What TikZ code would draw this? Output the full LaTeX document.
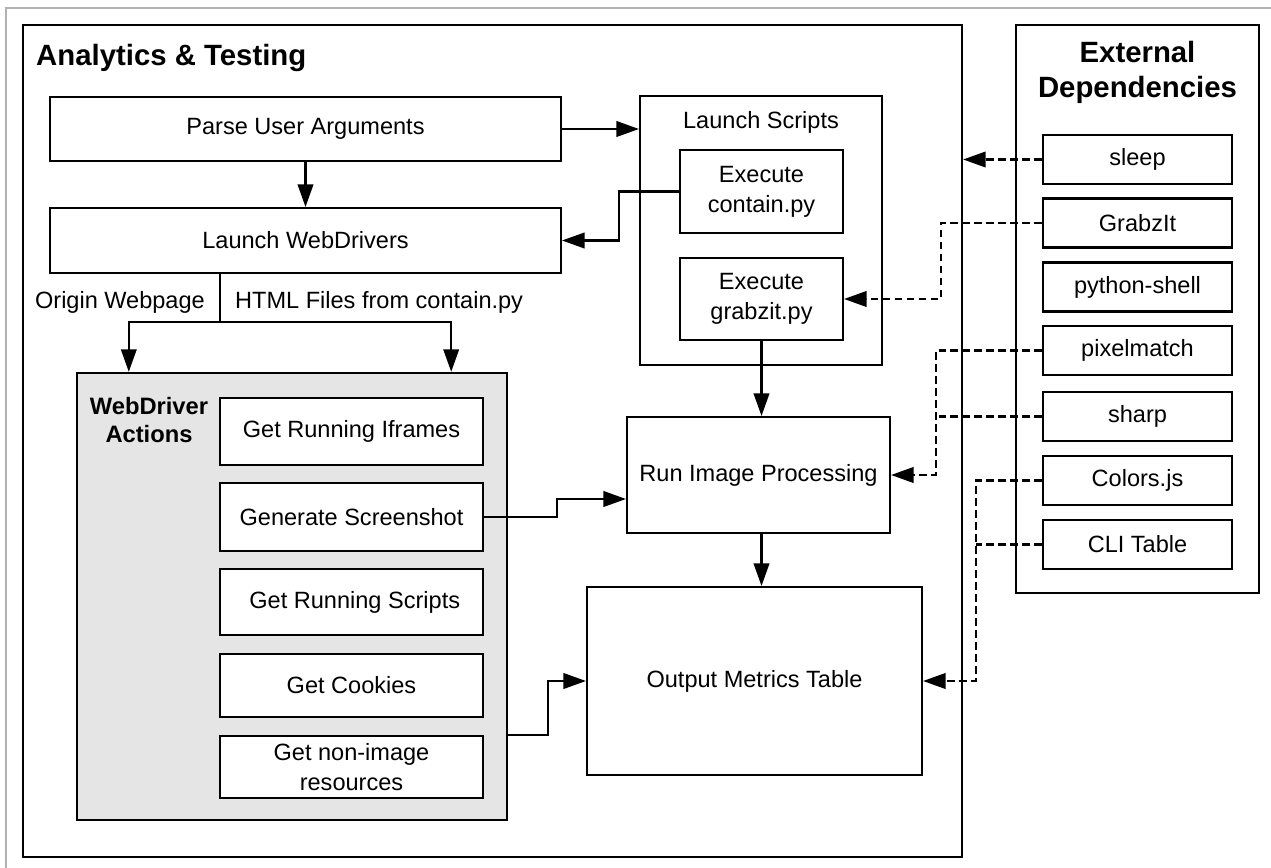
\documentclass[tikz,border=0pt]{standalone}
\usepackage{fontspec}
\setmainfont{Liberation Sans}
\usetikzlibrary{arrows.meta,positioning,calc}

\begin{document}
\begin{tikzpicture}[x=0.02cm,y=-0.02cm,
    box/.style={draw,line width=1.2pt,fill=white,font=\fontsize{13.4}{17}\selectfont,align=center,inner sep=2pt},
    frame/.style={draw,line width=1.4pt},
    heading/.style={font=\fontsize{16.7}{20}\selectfont\bfseries,align=center},
    flow/.style={line width=1.2pt,-{Triangle[length=0.45cm,width=0.31cm]}},
    depline/.style={flow,dash pattern=on 0.15cm off 0.09cm}]
    \useasboundingbox (0,0) rectangle (1271,868);
    % thin page frame
    \draw[gray!60,line width=0.6pt] (6,868) -- (6,8) -- (1271,8);

    % Analytics & Testing container
    \node[frame,minimum width=18.78cm,minimum height=16.64cm] (analytics) at (492.5,441) {};
    \node[heading,anchor=west] (analyticslbl) at (30,58) {Analytics \& Testing};

    % left column
    \node[box,minimum width=10.22cm,minimum height=1.28cm] (parse) at (305.5,129) {Parse User Arguments};
    \node[box,minimum width=10.22cm,minimum height=1.30cm] (launchwd) at (305.5,240.5) {Launch WebDrivers};
    \node[font=\fontsize{13.4}{17}\selectfont,anchor=east] (originlbl) at (211,302) {Origin Webpage};
    \node[font=\fontsize{13.4}{17}\selectfont,anchor=west] (htmllbl) at (229,302) {HTML Files from contain.py};

    % WebDriver actions group
    \node[frame,fill=gray!20,minimum width=8.6cm,minimum height=8.94cm] (actions) at (292,596.5) {};
    \node[font=\fontsize{13.5}{16}\selectfont\bfseries,align=center] (actionslbl) at (149,420) {WebDriver\\Actions};
    \node[box,minimum width=5.26cm,minimum height=1.34cm] (iframes) at (351.5,431.5) {Get Running Iframes};
    \node[box,minimum width=5.26cm,minimum height=1.36cm] (screenshot) at (351.5,517) {Generate Screenshot};
    \node[box,minimum width=5.26cm,minimum height=1.32cm] (runscripts) at (351.5,602) {\ Get Running Scripts};
    \node[box,minimum width=5.26cm,minimum height=1.26cm] (cookies) at (351.5,685.5) {Get Cookies};
    \node[box,minimum width=5.26cm,minimum height=1.24cm] (nonimage) at (351.5,767) {Get non-image\\resources};

    % Launch Scripts group
    \node[box,minimum width=4.84cm,minimum height=5.38cm] (scripts) at (761,230.5) {};
    \node[font=\fontsize{13.4}{17}\selectfont] (scriptslbl) at (761,122) {Launch Scripts};
    \node[box,minimum width=3.26cm,minimum height=1.66cm] (contain) at (761.5,191.5) {Execute\\contain.py};
    \node[box,minimum width=3.26cm,minimum height=1.64cm] (grabzit) at (761.5,299) {Execute\\grabzit.py};

    % processing and output
    \node[box,minimum width=5.26cm,minimum height=2.32cm] (imgproc) at (758.5,475) {Run Image Processing};
    \node[box,minimum width=6.70cm,minimum height=3.76cm] (metrics) at (754.5,681) {Output Metrics Table};

    % External Dependencies container
    \node[frame,minimum width=4.86cm,minimum height=11.36cm] (external) at (1137.5,309) {};
    \node[heading] (externallbl) at (1137.5,72.5) {External\\Dependencies};
    \node[box,minimum width=3.78cm,minimum height=0.98cm] (sleep) at (1137.5,159.5) {sleep};
    \node[box,minimum width=3.78cm,minimum height=0.98cm] (grabzitlib) at (1137.5,223) {GrabzIt};
    \node[box,minimum width=3.78cm,minimum height=0.98cm] (pyshell) at (1137.5,287) {python-shell};
    \node[box,minimum width=3.78cm,minimum height=0.98cm] (pixelmatch) at (1137.5,350.5) {pixelmatch};
    \node[box,minimum width=3.78cm,minimum height=0.98cm] (sharp) at (1137.5,416.5) {sharp};
    \node[box,minimum width=3.78cm,minimum height=0.98cm] (colors) at (1137.5,480.5) {Colors.js};
    \node[box,minimum width=3.78cm,minimum height=0.98cm] (clitable) at (1137.5,544.5) {CLI Table};

    % solid flow
    \draw[flow] (parse.east) -- (parse.east -| scripts.west);
    \draw[flow] (parse.south) -- (launchwd.north);
    \draw[flow] (contain.west) -- ++(-60,0) |- (launchwd.east);
    \coordinate (split) at (220,322);
    \draw[line width=1.2pt] (launchwd.south -| split) -- (split);
    \draw[flow] (split) -| ([xshift=1.06cm]actions.north west);
    \draw[flow] (split) -| ([xshift=-1.14cm]actions.north east);
    \draw[flow] (grabzit.south) -- (imgproc.north -| grabzit.south);
    \draw[flow] (screenshot.east) -- ++(73,0) |- ([yshift=-0.48cm]imgproc.west);
    \draw[flow] ([yshift=-2.77cm]actions.east) -- ++(40,0) |- (metrics.west);
    \draw[flow] (imgproc.south -| grabzit.south) -- (metrics.north -| grabzit.south);

    % dashed dependency links
    \draw[depline] (sleep.west) -- (sleep.west -| analytics.east);
    \draw[depline] (grabzitlib.west) -- ++(-101,0) |- (grabzit.east);
    \draw[depline] (pixelmatch.west) -- ++(-106,0) |- (imgproc.east);
    \draw[depline,-] (sharp.west) -- ++(-106,0);
    \draw[depline] (colors.west) -- ++(-66,0) |- (metrics.east);
    \draw[depline,-] (clitable.west) -- ++(-66,0);
\end{tikzpicture}
\end{document}
